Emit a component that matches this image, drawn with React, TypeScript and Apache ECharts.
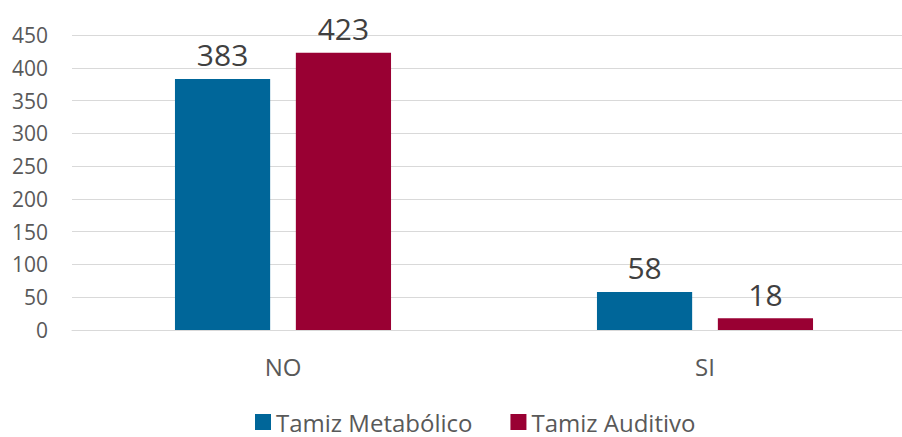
import React, { useEffect, useRef } from "react";
import * as echarts from "echarts";

const categories = ["NO", "SI"];
const metabolico = [383, 58];
const auditivo = [423, 18];
const seriesNames = ["Tamiz Metabólico", "Tamiz Auditivo"];

export default function App() {
  const ref = useRef<HTMLDivElement>(null);
  useEffect(() => {
    document.body.style.margin = "0";
    const chart = echarts.init(ref.current!, null, { renderer: "svg" });
    const font = "'Open Sans', sans-serif";
    chart.setOption({
      animation: false,
      textStyle: { fontFamily: font },
      grid: { left: 72, top: 35, width: 844, height: 295, containLabel: false, outerBoundsMode: "none" },
      legend: {
        top: 404,
        left: 250,
        icon: "rect",
        itemWidth: 16,
        itemHeight: 16,
        itemGap: 38,
        textStyle: { fontSize: 24, lineHeight: 26, color: "#595959", fontFamily: font },
        data: seriesNames,
      },
      xAxis: {
        type: "category",
        data: categories,
        axisLine: { lineStyle: { color: "#d9d9d9", width: 1 } },
        axisTick: { show: false },
        axisLabel: { fontSize: 24, color: "#595959", margin: 24, fontFamily: font },
      },
      yAxis: {
        type: "value",
        min: 0,
        max: 450,
        interval: 50,
        axisLine: { show: false },
        axisTick: { show: false },
        splitLine: { lineStyle: { color: "#d9d9d9", width: 1 } },
        axisLabel: { fontSize: 21, color: "#595959", margin: 24, fontFamily: font },
      },
      series: [
        {
          name: seriesNames[0],
          type: "bar",
          data: metabolico,
          barGap: "27%",
          barCategoryGap: "48.8%",
          itemStyle: { color: "#006699" },
          label: { show: true, position: "top", fontSize: 30, color: "#404040", distance: 9, fontFamily: font },
        },
        {
          name: seriesNames[1],
          type: "bar",
          data: auditivo,
          barGap: "27%",
          barCategoryGap: "48.8%",
          itemStyle: { color: "#990033" },
          label: { show: true, position: "top", fontSize: 30, color: "#404040", distance: 9, fontFamily: font },
        },
      ],
    });
    return () => chart.dispose();
  }, []);
  return <div ref={ref} style={{ width: 902, height: 437 }} />;
}
